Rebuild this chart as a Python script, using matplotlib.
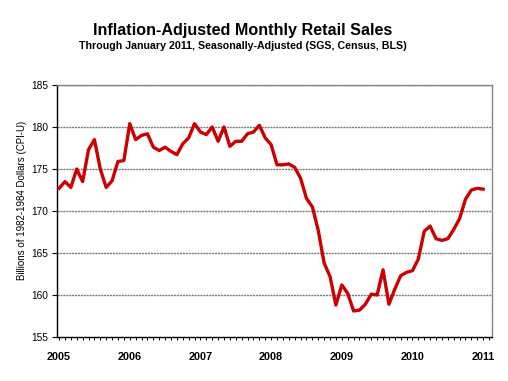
import matplotlib
matplotlib.use("Agg")
import matplotlib.pyplot as plt
import numpy as np

plt.rcParams['font.family'] = ['Liberation Sans', 'DejaVu Sans']

years = ["2005", "2006", "2007", "2008", "2009", "2010", "2011"]
sales = [172.7, 173.5, 172.8, 175.0, 173.5, 177.3, 178.5, 175.0, 172.8, 173.6, 175.9, 176.0,
         180.4, 178.5, 179.0, 179.2, 177.6, 177.2, 177.6, 177.1, 176.7, 178.0, 178.7, 180.4,
         179.4, 179.1, 180.0, 178.3, 180.0, 177.7, 178.3, 178.3, 179.2, 179.4, 180.2, 178.7,
         177.9, 175.5, 175.5, 175.6, 175.2, 173.9, 171.5, 170.5, 167.7, 163.8, 162.2, 158.8,
         161.2, 160.2, 158.1, 158.2, 158.9, 160.1, 160.0, 163.0, 158.9, 160.7, 162.3, 162.7,
         162.9, 164.3, 167.6, 168.2, 166.7, 166.5, 166.7, 167.8, 169.1, 171.4, 172.5, 172.7,
         172.6]
yticks = [155, 160, 165, 170, 175, 180, 185]

fig = plt.figure(figsize=(5.08, 3.81), dpi=100)
ax = fig.add_axes([57/508, 44/381, 435/508, 252/381])

x = np.arange(len(sales))
for yv in yticks[1:]:
    ax.axhline(yv, color='#7a7a7a', lw=1.0, ls=(0, (1.5, 0.6)), zorder=1)
ax.plot(x, sales, color='#CC0000', lw=2.4, solid_joinstyle='round', zorder=3)

ax.set_xlim(-0.35, 73.5)
ax.set_ylim(155, 185)
ax.set_yticks(yticks)
ax.set_yticklabels([str(v) for v in yticks], fontsize=7.3)
ax.set_xticks(np.arange(0, len(sales), 12))
ax.set_xticklabels(years, fontsize=7.8, fontweight='bold')
ax.set_xticks(np.arange(0, 74), minor=True)
ax.tick_params(axis='x', which='both', direction='out', length=2.5, width=0.7, color='black', pad=8)
ax.tick_params(axis='y', direction='out', length=3.5, width=0.8, pad=3)

for s in ['top', 'right']:
    ax.spines[s].set_color('#8a8a8a')
    ax.spines[s].set_linestyle((0, (1.5, 0.6)))
    ax.spines[s].set_linewidth(1.0)
for s in ['left', 'bottom']:
    ax.spines[s].set_color('black')
    ax.spines[s].set_linewidth(1.0)

fig.text(243/508, 1 - 30/381, "Inflation-Adjusted Monthly Retail Sales", ha='center', va='center',
         fontsize=11.6, fontweight='bold')
fig.text(243/508, 1 - 46/381, "Through January 2011, Seasonally-Adjusted (SGS, Census, BLS)",
         ha='center', va='center', fontsize=7.7, fontweight='bold')
fig.text(22/508, 1 - 200/381, "Billions of 1982-1984 Dollars (CPI-U)", rotation=90,
         ha='center', va='center', fontsize=7)

fig.savefig("out.png", dpi=100)
